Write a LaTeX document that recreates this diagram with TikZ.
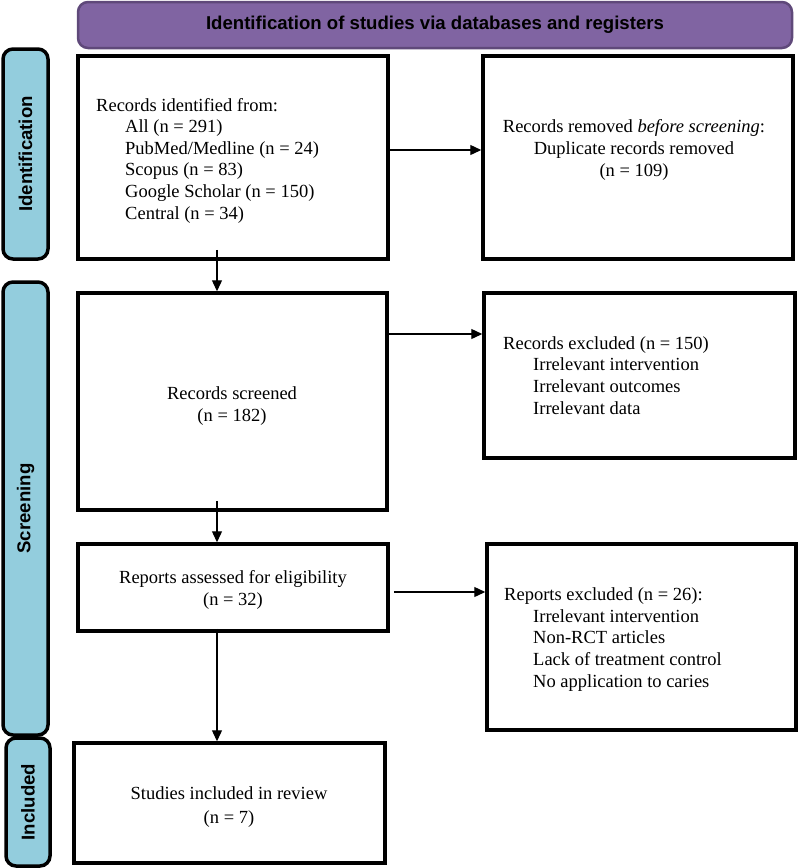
\documentclass[tikz,border=0pt]{standalone}
\usepackage{fontspec}
\setmainfont{Liberation Serif}
\newfontfamily\hdfont{Liberation Sans}
\usetikzlibrary{arrows.meta}
\definecolor{bannerfill}{RGB}{128,100,162}
\definecolor{bannerdraw}{RGB}{95,73,122}
\definecolor{sidefill}{RGB}{147,205,221}
\begin{document}
\begin{tikzpicture}[x=1pt,y=-1pt,
  box/.style={draw=black, line width=3.5pt, fill=white, inner sep=0pt},
  side/.style={draw=black, line width=3.5pt, fill=sidefill, rounded corners=10pt, inner sep=0pt, rotate=90,
    font=\hdfont\bfseries\fontsize{18.6}{22}\selectfont},
  banner/.style={draw=bannerdraw, line width=2.5pt, fill=bannerfill, rounded corners=10pt, inner sep=0pt,
    font=\hdfont\bfseries\fontsize{18.6}{22}\selectfont},
  txt/.style={inner sep=0pt, font=\fontsize{18.5}{21.6}\selectfont},
  arrow/.style={-{Triangle[length=11pt,width=10pt]}, line width=1.3pt}]
\useasboundingbox (0,0) rectangle (799,868);
% banner
\node[banner, minimum width=714pt, minimum height=46pt] (ban) at (435,25) {Identification of studies via databases and registers};
% side bars
\node[side, minimum width=210pt, minimum height=45pt] (s1) at (25.5,154) {Identification};
\node[side, minimum width=453pt, minimum height=45pt] (s2) at (25.5,508.5) {Screening};
\node[side, minimum width=128pt, minimum height=44pt] (s3) at (28,802) {Included};
% boxes
\node[box, minimum width=310pt, minimum height=203pt] (b1) at (233,157.5) {};
\node[box, minimum width=310pt, minimum height=203pt] (b2) at (638,157.5) {};
\node[box, minimum width=309pt, minimum height=217pt] (b3) at (232.5,401.5) {};
\node[box, minimum width=311pt, minimum height=165pt] (b4) at (639.5,375.5) {};
\node[box, minimum width=310pt, minimum height=87pt] (b5) at (233,587.5) {};
\node[box, minimum width=309pt, minimum height=186pt] (b6) at (641.5,637) {};
\node[box, minimum width=311pt, minimum height=120pt] (b7) at (229.5,803) {};
% texts (anchor base = baseline of the last line)
\node[txt, anchor=base west, align=left] (t1) at (96,219) {Records identified from:\\
\hspace*{29pt}All (n = 291)\\
\hspace*{29pt}PubMed/Medline (n = 24)\\
\hspace*{29pt}Scopus (n = 83)\\
\hspace*{29pt}Google Scholar (n = 150)\\
\hspace*{29pt}Central (n = 34)};
\node[txt, anchor=base, align=center] (t2) at (634,176) {Records removed \textit{before screening}:\\
Duplicate records removed\\
(n = 109)};
\node[txt, anchor=base, align=center] (t3) at (232,421) {Records screened\\(n = 182)};
\node[txt, anchor=base west, align=left] (t4) at (503,414) {Records excluded (n = 150)\\
\hspace*{30pt}Irrelevant intervention\\
\hspace*{30pt}Irrelevant outcomes\\
\hspace*{30pt}Irrelevant data};
\node[txt, anchor=base, align=center] (t5) at (233,605) {Reports assessed for eligibility\\(n = 32)};
\node[txt, anchor=base west, align=left] (t6) at (504,687) {Reports excluded (n = 26):\\
\hspace*{29pt}Irrelevant intervention\\
\hspace*{29pt}Non-RCT articles\\
\hspace*{29pt}Lack of treatment control\\
\hspace*{29pt}No application to caries};
\node[txt, anchor=base, align=center] (t7) at (229,823) {Studies included in review\\[2.4pt](n = 7)};
% helper coordinates
\coordinate (y150) at (0,150);
\coordinate (y334) at (0,334);
\coordinate (y592) at (0,592);
\coordinate (x217) at (217,0);
% connectors
\draw[arrow] (b1.east |- y150) -- (b2.west |- y150);
\draw[arrow] (b3.east |- y334) -- (b4.west |- y334);
\draw[arrow] ([xshift=4pt]b5.east |- y592) -- (b6.west |- y592);
\draw[arrow] ([yshift=11pt]b1.south -| x217) -- (b3.north -| x217);
\draw[arrow] ([yshift=11pt]b3.south -| x217) -- (b5.north -| x217);
\draw[arrow] ([yshift=4pt]b5.south -| x217) -- (b7.north -| x217);
\end{tikzpicture}
\end{document}
